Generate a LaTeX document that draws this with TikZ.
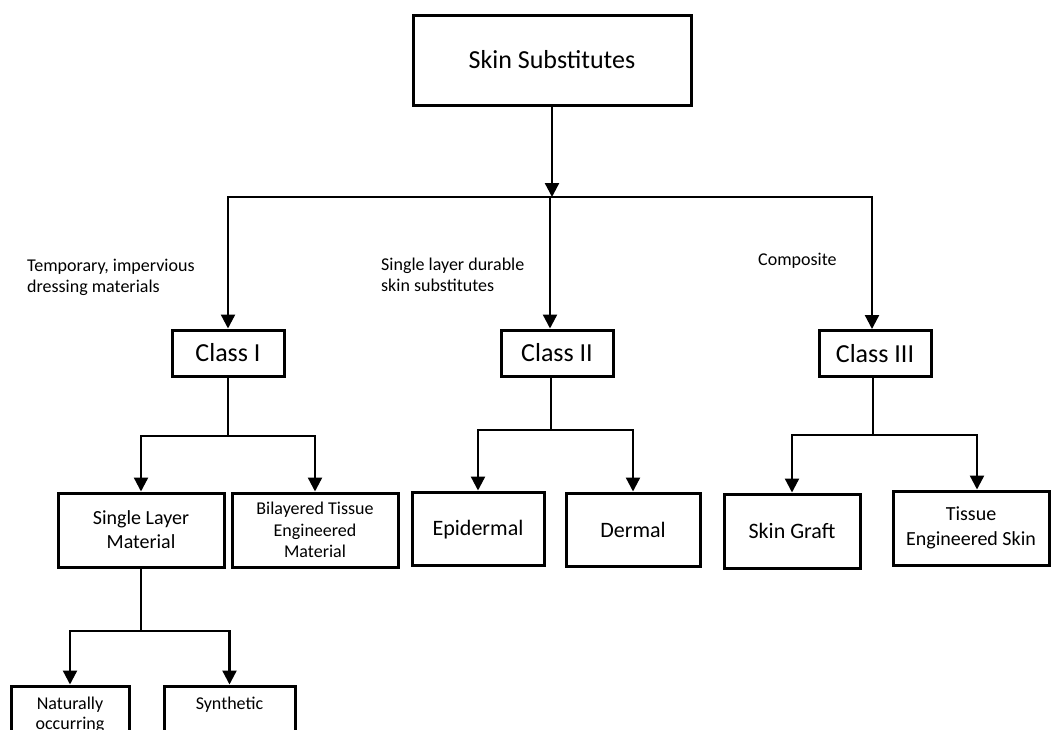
\documentclass[tikz,border=0pt]{standalone}
\usepackage{fontspec}
\setmainfont{Carlito}
\usetikzlibrary{arrows.meta}
\begin{document}
\begin{tikzpicture}[x=1pt,y=-1pt,
  box/.style={draw, line width=3pt, inner sep=0pt, align=center},
  conn/.style={line width=2.3pt},
  arr/.style={line width=2.3pt, -{Triangle[width=14pt,length=14pt]}},
  lbl/.style={anchor=north west, align=left, inner sep=0pt, font=\fontsize{18}{20.5}\selectfont}
]
\useasboundingbox[fill=white] (0,0) rectangle (1051,729);

% nodes
\node[box, minimum width=278pt, minimum height=90pt, font=\fontsize{26}{31}\selectfont] (top) at (552,60) {Skin Substitutes};

\node[box, minimum width=112pt, minimum height=46pt, font=\fontsize{26}{31}\selectfont] (c1) at (228,353) {Class I};
\node[box, minimum width=112pt, minimum height=46pt, font=\fontsize{26}{31}\selectfont] (c2) at (557,353) {Class II};
\node[box, minimum width=112pt, minimum height=46pt, font=\fontsize{26}{31}\selectfont] (c3) at (875,353.5) {Class III};

\node[box, minimum width=166pt, minimum height=74pt, font=\fontsize{20}{24}\selectfont] (slm) at (141,530) {Single Layer\\Material};
\node[box, minimum width=166pt, minimum height=74pt, font=\fontsize{18}{21.5}\selectfont] (bil) at (315,530) {Bilayered Tissue\\Engineered\\Material};
\node[box, minimum width=132pt, minimum height=73pt, font=\fontsize{22}{26}\selectfont, text depth=2pt] (epi) at (478,528.5) {Epidermal};
\node[box, minimum width=134pt, minimum height=73pt, font=\fontsize{22}{26}\selectfont] (der) at (633,529.5) {Dermal};
\node[box, minimum width=136pt, minimum height=74pt, font=\fontsize{22}{26}\selectfont] (sg) at (792,531) {Skin Graft};
\node[box, minimum width=156pt, minimum height=74pt, font=\fontsize{20}{25}\selectfont] (tes) at (971,528) {Tissue\\Engineered Skin};

\node[box, minimum width=118pt, minimum height=58pt, font=\fontsize{18}{20.5}\selectfont] (nat) at (70,715) {Naturally\\occurring};
\node[box, minimum width=131pt, minimum height=58pt, font=\fontsize{18}{20.5}\selectfont] (syn) at (229.5,715) {Synthetic\\\phantom{g}};

% labels
\node[lbl] (l1) at (27,259) {Temporary, impervious\\dressing materials};
\node[lbl] (l2) at (381,258) {Single layer durable\\skin substitutes};
\node[lbl, anchor=base west] (l3) at (758,265) {Composite};

% coordinates
\coordinate (hub) at (552,197);
\coordinate (hl) at (228,197);
\coordinate (hm) at (550,197);
\coordinate (hr) at (872,197);
\coordinate (b1) at (228,436);
\coordinate (b2) at (551,430);
\coordinate (b3) at (873,435);
\coordinate (b3r) at (977,435);
\coordinate (b4) at (141,631);

% connectors
\draw[arr] (top.south) -- (hub);
\draw[arr] (hm) -- (hl) -- (c1.north);
\draw[arr] (hm) -- (hr) -- (hr |- c3.north);
\draw[arr] (hm) -- (hm |- c2.north);

\draw[conn] (c1.south) -- (b1);
\draw[arr] (b1) -| (slm.north);
\draw[arr] (b1) -| (bil.north);

\draw[conn] (b2 |- c2.south) -- (b2);
\draw[arr] (b2) -| (epi.north);
\draw[arr] (b2) -| (der.north);

\draw[conn] (b3 |- c3.south) -- (b3);
\draw[arr] (b3) -| (sg.north);
\draw[arr] (b3) -- (b3r) -- (b3r |- tes.north);

\draw[conn] (slm.south) -- (b4);
\draw[arr] (b4) -| (nat.north);
\draw[arr] (b4) -| (syn.north);
\end{tikzpicture}
\end{document}
